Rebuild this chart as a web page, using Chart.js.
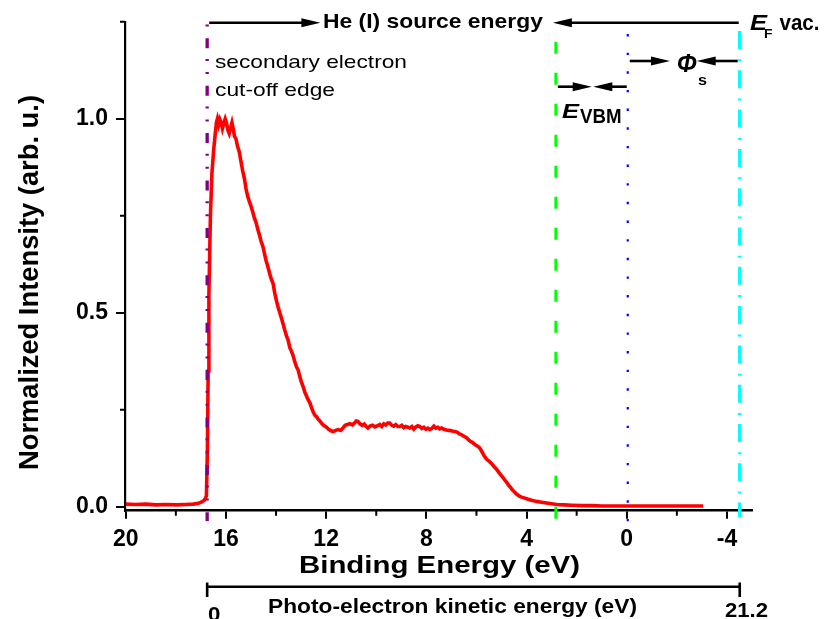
<!DOCTYPE html>
<html>
<head>
<meta charset="utf-8">
<script src="https://cdn.jsdelivr.net/npm/chart.js@4.4.1/dist/chart.umd.min.js"></script>
<style>
  html, body { margin: 0; padding: 0; background: #fff; }
  canvas { display: block; }
</style>
</head>
<body>
<canvas id="upsChart" width="824" height="619"></canvas>
<script>
// UPS spectrum, values
const bindingEnergy = [
  20.0, 19.6, 19.2, 18.8, 18.4, 18.0, 17.6, 17.3, 17.1, 16.95, 16.85, 16.78, 16.74, 16.71, 16.68,
  16.62, 16.56, 16.49, 16.43, 16.38, 16.34, 16.29, 16.24, 16.19, 16.14, 16.08, 16.03, 15.98, 15.92,
  15.87, 15.82, 15.76, 15.71, 15.66, 15.6, 15.54, 15.47, 15.4, 15.33, 15.26, 15.2, 15.13, 15.07,
  15.0, 14.93, 14.87, 14.8, 14.73, 14.66, 14.6, 14.53, 14.47, 14.4, 14.33, 14.25, 14.18, 14.12,
  14.05, 13.98, 13.92, 13.85, 13.78, 13.72, 13.65, 13.58, 13.52, 13.45, 13.38, 13.32, 13.25, 13.18,
  13.12, 13.05, 12.99, 12.92, 12.85, 12.78, 12.72, 12.65, 12.58, 12.52, 12.45, 12.38, 12.32, 12.26,
  12.18, 12.1, 12.0, 11.9, 11.8, 11.72, 11.62, 11.52, 11.42, 11.32, 11.24, 11.15, 11.05, 10.95,
  10.87, 10.8, 10.73, 10.65, 10.56, 10.48, 10.4, 10.33, 10.25, 10.15, 10.05, 9.95, 9.86, 9.78, 9.7,
  9.62, 9.54, 9.46, 9.38, 9.3, 9.22, 9.14, 9.06, 8.98, 8.9, 8.82, 8.74, 8.66, 8.58, 8.5, 8.42, 8.34,
  8.26, 8.18, 8.1, 8.02, 7.94, 7.86, 7.78, 7.7, 7.62, 7.54, 7.47, 7.4, 7.3, 7.2, 7.1, 7.0, 6.93,
  6.85, 6.76, 6.68, 6.6, 6.5, 6.4, 6.3, 6.22, 6.14, 6.05, 5.95, 5.87, 5.78, 5.7, 5.6, 5.5, 5.4, 5.3,
  5.2, 5.12, 5.04, 4.96, 4.88, 4.8, 4.72, 4.64, 4.56, 4.48, 4.4, 4.3, 4.2, 4.1, 4.0, 3.8, 3.6, 3.4,
  3.2, 3.0, 2.8, 2.5, 2.2, 1.8, 1.4, 1.0, 0.6, 0.2, -0.2, -0.6, -1.0, -1.4, -1.8, -2.2, -2.6, -3.05
];
const intensity = [
  0.007, 0.006, 0.007, 0.005, 0.006, 0.005, 0.006, 0.007, 0.009, 0.013, 0.018, 0.028, 0.15, 0.35, 0.55,
  0.75, 0.86, 0.92, 0.96, 0.99, 1.0, 0.985, 0.998, 0.99, 0.975, 0.99, 1.0, 0.99, 0.97,
  0.962, 0.975, 0.99, 0.975, 0.955, 0.948, 0.93, 0.915, 0.89, 0.865, 0.845, 0.82, 0.8, 0.788,
  0.775, 0.76, 0.745, 0.733, 0.715, 0.70, 0.685, 0.672, 0.655, 0.635, 0.62, 0.6, 0.585, 0.576,
  0.55, 0.53, 0.515, 0.5, 0.485, 0.472, 0.455, 0.44, 0.43, 0.41, 0.4, 0.39, 0.373, 0.36,
  0.353, 0.335, 0.322, 0.31, 0.295, 0.285, 0.276, 0.268, 0.255, 0.245, 0.236, 0.232, 0.226, 0.222,
  0.215, 0.21, 0.206, 0.2, 0.196, 0.194, 0.197, 0.199, 0.197, 0.204, 0.21, 0.212, 0.214, 0.211,
  0.216, 0.221, 0.22, 0.214, 0.21, 0.213, 0.207, 0.203, 0.208, 0.21, 0.206, 0.209, 0.212, 0.207, 0.214,
  0.211, 0.216, 0.216, 0.21, 0.208, 0.212, 0.207, 0.207, 0.21, 0.204, 0.207, 0.205, 0.203, 0.207, 0.2, 0.206, 0.209,
  0.207, 0.202, 0.205, 0.2, 0.203, 0.199, 0.202, 0.208, 0.203, 0.205, 0.201, 0.203, 0.2, 0.198, 0.197, 0.196, 0.195,
  0.194, 0.192, 0.188, 0.186, 0.182, 0.178, 0.172, 0.168, 0.165, 0.16, 0.156, 0.152, 0.142, 0.132, 0.123, 0.118, 0.112, 0.104,
  0.097, 0.09, 0.083, 0.077, 0.07, 0.064, 0.056, 0.05, 0.043, 0.038, 0.033, 0.028, 0.025, 0.023, 0.021, 0.017, 0.014, 0.012,
  0.01, 0.008, 0.006, 0.005, 0.004, 0.003, 0.003, 0.002, 0.002, 0.002, 0.002, 0.002, 0.002, 0.002, 0.002, 0.002, 0.002, 0.002
];

// axis ticks
const xTicks = [20, 16, 12, 8, 4, 0, -4];
const xMinorTicks = [18, 14, 10, 6, 2, -2];
const yTicks = [0, 0.5, 1.0];
const yMinorTicks = [0.25, 0.75, 1.25];

// marker lines (binding energy in eV)
const cutoffBE = 16.75;   // secondary electron cut-off
const vbmBE = 2.83;       // valence band maximum
const fermiBE = -0.04;    // Fermi level
const vacBE = -4.51;      // vacuum level (cut-off - 21.2 eV)
const kineticLabels = ['0', '21.2'];

const FONT = '"Liberation Sans", Arial, sans-serif';

// draw text squeezed/stretched to a given width
function fitText(ctx, str, x, y, font, w, align) {
  ctx.save();
  ctx.font = font;
  const k = w ? w / ctx.measureText(str).width : 1;
  ctx.translate(x, y);
  ctx.scale(k, 1);
  ctx.textAlign = align || 'left';
  ctx.textBaseline = 'alphabetic';
  ctx.fillStyle = '#000';
  ctx.fillText(str, 0, 0);
  ctx.restore();
}

function vline(ctx, x, y1, y2, color, width, dash, offset) {
  ctx.save();
  ctx.strokeStyle = color;
  ctx.lineWidth = width;
  ctx.setLineDash(dash);
  ctx.lineDashOffset = offset || 0;
  ctx.beginPath();
  ctx.moveTo(x, y1);
  ctx.lineTo(x, y2);
  ctx.stroke();
  ctx.restore();
}

function arrow(ctx, x1, y, x2) {
  const dir = Math.sign(x2 - x1);
  const head = 19, half = 4.5;
  ctx.save();
  ctx.strokeStyle = '#000';
  ctx.fillStyle = '#000';
  ctx.lineWidth = 2.6;
  ctx.beginPath();
  ctx.moveTo(x1, y);
  ctx.lineTo(x2 - dir * head * 0.8, y);
  ctx.stroke();
  ctx.beginPath();
  ctx.moveTo(x2, y);
  ctx.lineTo(x2 - dir * head, y - half);
  ctx.lineTo(x2 - dir * head, y + half);
  ctx.closePath();
  ctx.fill();
  ctx.restore();
}

const annotations = {
  id: 'annotations',
  afterDatasetsDraw(chart) {
    const ctx = chart.ctx;
    const xs = chart.scales.x;
    const xCut = xs.getPixelForValue(cutoffBE);
    const xVbm = xs.getPixelForValue(vbmBE);
    const xFermi = xs.getPixelForValue(fermiBE);
    const xVac = xs.getPixelForValue(vacBE);

    // vertical marker lines
    vline(ctx, xCut, 23, 521, '#800080', 3.3, [10, 10.7, 2, 11, 2, 11.7], 32.1);
    vline(ctx, xVbm, 41.7, 520, '#00ff00', 3, [12, 19]);
    vline(ctx, xFermi, 34, 522, '#0000ff', 2.2, [2.4, 16.25]);
    vline(ctx, xVac, 22, 517, '#00ffff', 3.4, [18, 10.3, 2, 9], 30.3);

    // He (I) source energy
    const heW = 220, heX = 432.9;
    fitText(ctx, 'He (I) source energy', heX, 28.3, 'bold 21px ' + FONT, heW, 'center');
    arrow(ctx, xCut + 2, 22.7, heX - heW / 2 - 2.5);
    arrow(ctx, xVac - 1, 22.7, heX + heW / 2 + 10);

    // E_F vac.
    fitText(ctx, 'E', 750, 30, 'italic bold 22px ' + FONT, 17);
    fitText(ctx, 'F', 764, 38, 'bold 12px ' + FONT, 8.5);
    fitText(ctx, 'vac.', 779.5, 30, 'bold 22px ' + FONT, 40);

    // cut-off label
    fitText(ctx, 'secondary electron', 215, 68, '19px ' + FONT, 192);
    fitText(ctx, 'cut-off edge', 215, 96, '19px ' + FONT, 120);

    // E_VBM
    arrow(ctx, xVbm + 2, 86.7, 591.7);
    arrow(ctx, xFermi - 1, 86.7, 593.3);
    fitText(ctx, 'E', 562, 118.3, 'italic bold 21px ' + FONT, 17);
    fitText(ctx, 'VBM', 580, 123.3, 'bold 20px ' + FONT, 41.5);

    // work function
    arrow(ctx, xFermi + 2, 61, 670);
    arrow(ctx, xVac - 2, 61, 696.7);
    fitText(ctx, '\u03A6', 686.7, 71.5, 'italic bold 26px ' + FONT, 20, 'center');
    fitText(ctx, 's', 702.5, 85, 'bold 15px ' + FONT, 9, 'center');

    // axis titles
    fitText(ctx, 'Binding Energy (eV)', 439.5, 572.7, 'bold 23px ' + FONT, 281, 'center');
    ctx.save();
    ctx.translate(38, 282.5);
    ctx.rotate(-Math.PI / 2);
    ctx.font = 'bold 26px ' + FONT;
    const k = 375 / ctx.measureText('Normalized Intensity (arb. u.)').width;
    ctx.scale(k, 1.08);
    ctx.textAlign = 'center';
    ctx.fillStyle = '#000';
    ctx.fillText('Normalized Intensity (arb. u.)', 0, 0);
    ctx.restore();

    // photo-electron kinetic energy bar
    ctx.save();
    ctx.strokeStyle = '#000';
    ctx.lineWidth = 2.6;
    ctx.beginPath();
    ctx.moveTo(xCut, 586.7);
    ctx.lineTo(xVac, 586.7);
    ctx.moveTo(xCut, 582.5);
    ctx.lineTo(xCut, 597);
    ctx.moveTo(xVac, 582.5);
    ctx.lineTo(xVac, 597);
    ctx.stroke();
    ctx.restore();
    fitText(ctx, kineticLabels[0], xCut + 7, 621, 'bold 21px ' + FONT, 12.4, 'center');
    fitText(ctx, kineticLabels[1], xVac + 6.7, 617, 'bold 21px ' + FONT, 43, 'center');
    fitText(ctx, 'Photo-electron kinetic energy (eV)', 268, 613, 'bold 19.5px ' + FONT, 369);
  },
  afterDraw(chart) {
    // minor ticks
    const ctx = chart.ctx;
    const xs = chart.scales.x, ys = chart.scales.y;
    const area = chart.chartArea;
    ctx.save();
    ctx.strokeStyle = '#000';
    ctx.lineWidth = 2;
    ctx.beginPath();
    xMinorTicks.forEach(v => {
      const px = xs.getPixelForValue(v);
      ctx.moveTo(px, area.bottom);
      ctx.lineTo(px, area.bottom + 5);
    });
    yMinorTicks.forEach(v => {
      const py = ys.getPixelForValue(v);
      ctx.moveTo(area.left, py);
      ctx.lineTo(area.left - 5, py);
    });
    ctx.stroke();
    ctx.restore();
  }
};

const upsChart = new Chart(document.getElementById('upsChart').getContext('2d'), {
  type: 'line',
  data: {
    datasets: [{
      data: bindingEnergy.map((be, i) => ({ x: be, y: intensity[i] })),
      borderColor: '#ff0000',
      borderWidth: 3.6,
      pointRadius: 0,
      tension: 0,
      fill: false
    }]
  },
  options: {
    responsive: false,
    animation: false,
    devicePixelRatio: 1,
    layout: { padding: { top: 15, right: 72, bottom: 0, left: 0 } },
    plugins: {
      legend: { display: false },
      tooltip: { enabled: false }
    },
    scales: {
      x: {
        type: 'linear',
        reverse: true,
        min: -5,
        max: 20.03,
        afterFit: s => { s.height = 108.3; },
        afterBuildTicks: s => { s.ticks = xTicks.map(v => ({ value: v })); },
        grid: { drawOnChartArea: false, color: '#000', lineWidth: 2, tickLength: 8 },
        border: { color: '#000', width: 2.6 },
        ticks: {
          color: '#000',
          font: { family: FONT, weight: 'bold', size: 23 },
          padding: 7,
          maxRotation: 0,
          autoSkip: false,
          callback: v => String(v)
        }
      },
      y: {
        min: -0.01,
        max: 1.25,
        afterFit: s => { s.width = 125; },
        afterBuildTicks: s => { s.ticks = yTicks.map(v => ({ value: v })); },
        grid: { drawOnChartArea: false, color: '#000', lineWidth: 2, tickLength: 9 },
        border: { color: '#000', width: 2.2 },
        ticks: {
          color: '#000',
          font: { family: FONT, weight: 'bold', size: 23 },
          padding: 8,
          callback: v => v.toFixed(1)
        }
      }
    }
  },
  plugins: [annotations]
});
</script>
</body>
</html>
